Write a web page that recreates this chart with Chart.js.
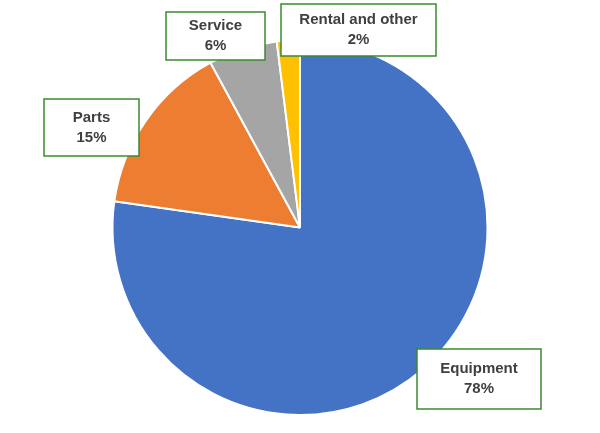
<!DOCTYPE html>
<html>
<head>
<meta charset="utf-8">
<script src="https://cdn.jsdelivr.net/npm/chart.js@4"></script>
<style>
  html, body { margin: 0; padding: 0; background: #fff; }
  #wrap { width: 600px; height: 433px; }
</style>
</head>
<body>
<div id="wrap"><canvas id="pie"></canvas></div>
<script>
const categories = ['Equipment', 'Parts', 'Service', 'Rental and other'];
const shares = [78, 15, 6, 2];
const colors = ['#4472C4', '#ED7D31', '#A5A5A5', '#FFC000'];

// label boxes: x, y, w, h
const boxes = [
  [417, 349, 124, 60],
  [44, 99, 95, 57],
  [166, 12, 99, 48],
  [281, 4, 155, 52]
];

const labelBoxes = {
  id: 'labelBoxes',
  afterDraw(chart) {
    const ctx = chart.ctx;
    ctx.save();
    ctx.font = 'bold 15px "Liberation Sans", Arial, sans-serif';
    ctx.textAlign = 'center';
    ctx.textBaseline = 'middle';
    boxes.forEach((b, i) => {
      ctx.fillStyle = '#fff';
      ctx.fillRect(b[0], b[1], b[2], b[3]);
      ctx.strokeStyle = '#3A8A2E';
      ctx.lineWidth = 1.5;
      ctx.strokeRect(b[0], b[1], b[2], b[3]);
      ctx.fillStyle = '#404040';
      const cx = b[0] + b[2] / 2, cy = b[1] + b[3] / 2;
      ctx.fillText(categories[i], cx, cy - 10);
      ctx.fillText(shares[i] + '%', cx, cy + 10);
    });
    ctx.restore();
  }
};

new Chart(document.getElementById('pie'), {
  type: 'pie',
  data: {
    labels: categories,
    datasets: [{
      data: shares,
      backgroundColor: colors,
      borderColor: '#fff',
      borderWidth: 2
    }]
  },
  options: {
    responsive: true,
    maintainAspectRatio: false,
    animation: false,
    layout: { padding: { top: 39, bottom: 17 } },
    plugins: { legend: { display: false }, tooltip: { enabled: false } }
  },
  plugins: [labelBoxes]
});
</script>
</body>
</html>
